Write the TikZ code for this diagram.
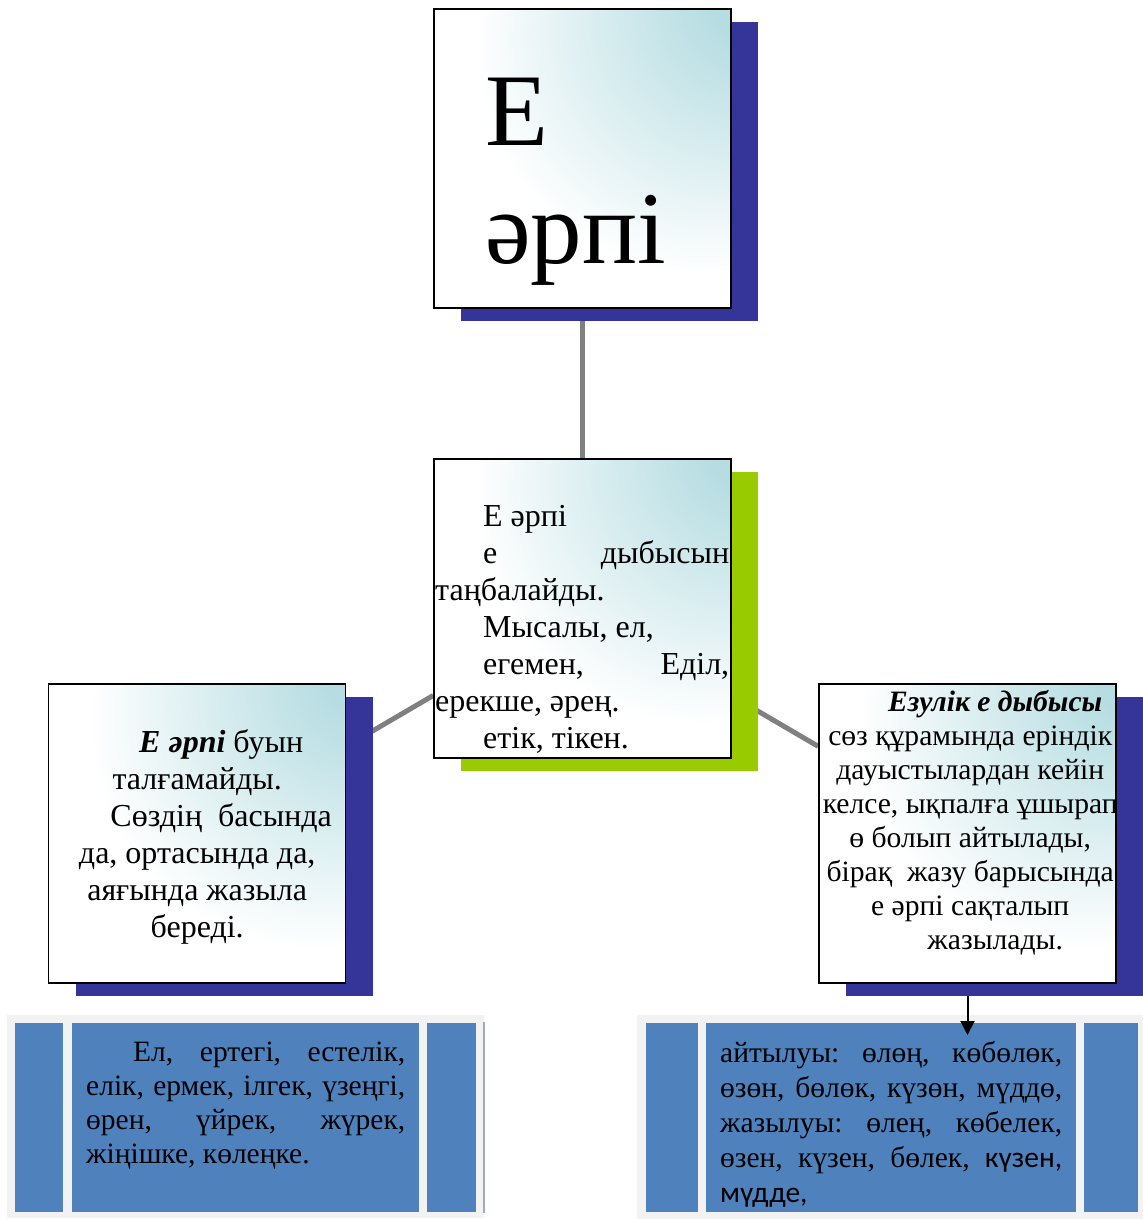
\documentclass[tikz,border=0pt]{standalone}
\usepackage{fontspec}
\setmainfont{Liberation Serif}
\newfontfamily\calibrifont{Carlito}
\usetikzlibrary{arrows.meta,backgrounds}
\definecolor{navyshade}{RGB}{53,53,153}
\definecolor{limeshade}{RGB}{153,204,0}
\definecolor{tealtint}{RGB}{182,221,226}
\definecolor{panelblue}{RGB}{79,129,189}
\definecolor{panelgrey}{RGB}{242,242,242}
\definecolor{linkgrey}{RGB}{128,128,128}
\definecolor{paneledge}{RGB}{160,170,190}
\pgfdeclareradialshading{cardglow}{\pgfpoint{32bp}{30bp}}{color(0bp)=(tealtint); color(8bp)=(tealtint); color(38bp)=(white); color(100bp)=(white)}

\begin{document}
\begin{tikzpicture}[x=1pt,y=-1pt,
    card/.style={draw=black,line width=1.6pt,shade,shading=cardglow,
                 minimum width=297pt,minimum height=299pt,inner sep=0pt},
    card shade/.style={fill=#1,minimum width=297pt,minimum height=299pt,inner sep=0pt},
    link/.style={draw=linkgrey,line width=5pt},
    panel/.style={fill=panelgrey,inner sep=0pt},
    column/.style={fill=panelblue,inner sep=0pt,minimum height=189pt},
    body/.style={anchor=base west,inner sep=0pt}]

  \useasboundingbox (0,0) rectangle (1143,1219);

  \node[card] (topbox) at (582.5,158.5) {};
  \node[card] (midbox) at (582.5,608.5) {};
  \node[card] (leftbox) at (197,833.5) {};
  \node[card] (rightbox) at (967.5,833.5) {};

  \begin{scope}[on background layer]
    \path[link] (topbox) edge (midbox)
                (midbox) edge (leftbox)
                         edge (rightbox);
    \node[card shade=navyshade] (topshade) at ([shift={(27,13)}]topbox.center) {};
    \node[card shade=limeshade] (midshade) at ([shift={(27,13)}]midbox.center) {};
    \node[card shade=navyshade] (leftshade) at ([shift={(27,13)}]leftbox.center) {};
    \node[card shade=navyshade] (rightshade) at ([shift={(27,13)}]rightbox.center) {};
  \end{scope}

  \node[body] (toptext) at (485,145)
    {\parbox[t]{230pt}{\fontsize{103}{118}\selectfont Е\\әрпі}};
  \node[body] (midtext) at (435,526)
    {\parbox[t]{294pt}{\fontsize{32}{37}\selectfont\raggedright
      \hspace*{48pt}Е әрпі\\
      \hspace*{48pt}е\hfill дыбысын\\
      таңбалайды.\\
      \hspace*{48pt}Мысалы, ел,\\
      \hspace*{48pt}егемен,\hfill Еділ,\\
      ерекше, әрең.\\
      \hspace*{48pt}етік, тікен.}};
  \node[body] (lefttext) at (47,752)
    {\parbox[t]{300pt}{\fontsize{32}{37}\selectfont\centering
      \hspace*{48pt}\textbf{\textit{Е әрпі}} буын\\
      талғамайды.\\
      \hspace*{48pt}Сөздің\ \ басында\\
      да, ортасында да,\\
      аяғында жазыла\\
      береді.}};
  \node[body] (righttext) at (815,711)
    {\parbox[t]{310pt}{\fontsize{29.6}{34}\selectfont\centering
      \hspace*{50pt}\textbf{\textit{Езулік е дыбысы}}\\
      сөз құрамында еріндік\\
      дауыстылардан кейін\\
      келсе, ықпалға ұшырап\\
      ө болып айтылады,\\
      бірақ\ \ жазу барысында\\
      е әрпі сақталып\\
      \hspace*{50pt}жазылады.}};

  \node[panel,minimum width=477pt,minimum height=203pt] (leftpanel) at (245.5,1116.5) {};
  \draw[paneledge,line width=1.5pt] ([yshift=-7pt]leftpanel.north east) -- ([yshift=5pt]leftpanel.south east);
  \node[column,minimum width=48pt] (lcol1) at (39,1117.5) {};
  \node[column,minimum width=347pt] (lcol2) at (245.5,1117.5) {};
  \node[column,minimum width=49pt] (lcol3) at (451.5,1117.5) {};
  \node[body] (leftlist) at (86,1061)
    {\parbox[t]{319pt}{\fontsize{29.5}{34}\selectfont\raggedright
      \hspace*{47pt}Ел,\hfill ертегі,\hfill естелік,\\
      елік,\hfill ермек,\hfill ілгек,\hfill үзеңгі,\\
      өрен,\hfill үйрек,\hfill жүрек,\\
      жіңішке, көлеңке.}};

  \node[panel,minimum width=506pt,minimum height=204pt] (rightpanel) at (890,1117) {};
  \node[column,minimum width=52pt] (rcol1) at (672,1117.5) {};
  \node[column,minimum width=370pt] (rcol2) at (891,1117.5) {};
  \node[column,minimum width=54pt] (rcol3) at (1111,1117.5) {};
  \node[body] (rightlist) at (720,1062)
    {\parbox[t]{342pt}{\fontsize{29.5}{35}\selectfont\raggedright
      айтылуы:\hfill өлөң,\hfill көбөлөк,\\
      өзөн,\hfill бөлөк,\hfill күзөн,\hfill мүддө,\\
      жазылуы:\hfill өлең,\hfill көбелек,\\
      өзен,\hfill күзен,\hfill бөлек,\hfill {\calibrifont күзен,}\\
      {\calibrifont мүдде,}}};

  \coordinate (arrowtip) at (967.5,1035);
  \draw[-{Triangle[length=14pt,width=14pt]},line width=2pt] (rightbox.center |- rightshade.south) -- (arrowtip);
\end{tikzpicture}
\end{document}
